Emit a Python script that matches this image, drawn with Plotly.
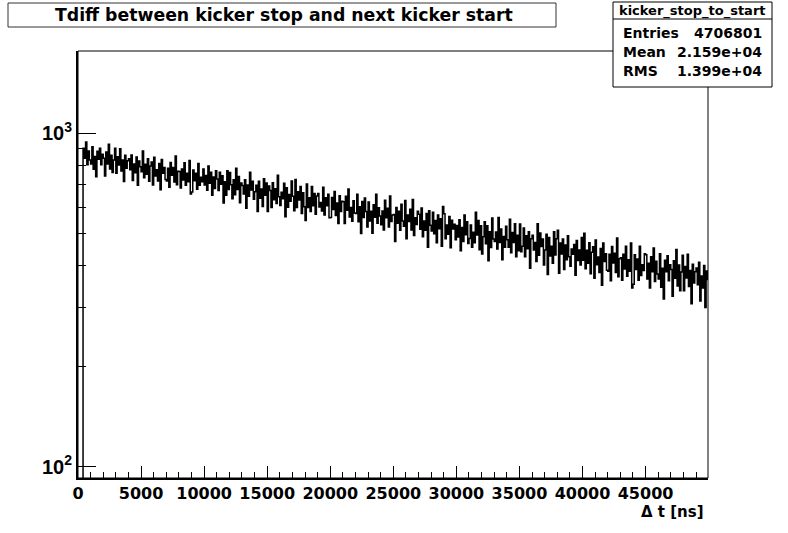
import plotly.graph_objects as go

# ---------------- data ----------------
TITLE = "Tdiff between kicker stop and next kicker start"
HIST_NAME = "kicker_stop_to_start"
STAT_LABELS = ["Entries", "Mean", "RMS"]
STAT_VALUES = ["4706801", "2.159e+04", "1.399e+04"]
X_TITLE = "\u0394 t [ns]"

BIN_WIDTH = 100  # ns
X_TICKS = [0, 5000, 10000, 15000, 20000, 25000, 30000, 35000, 40000, 45000]
Y_TICKS = [100, 1000]
Y_TICK_TEXT = ["10<sup>2</sup>", "10<sup>3</sup>"]
Y_MINOR = [200, 300, 400, 500, 600, 700, 800, 900]

counts_00000_10000 = [
    0, 0, 0, 0, 901, 841, 940, 804, 884, 831,
    808, 910, 779, 850, 740, 882, 835, 901, 803, 864,
    840, 743, 877, 808, 926, 780, 858, 762, 831, 900,
    758, 849, 802, 898, 770, 830, 716, 858, 785, 826,
    838, 776, 860, 721, 808, 761, 848, 698, 825, 793,
    766, 883, 734, 806, 752, 838, 717, 797, 819, 699,
    846, 744, 776, 718, 811, 676, 833, 758, 789, 726,
    718, 785, 688, 816, 748, 788, 713, 853, 700, 768,
    767, 684, 780, 723, 815, 697, 758, 715, 828, 657,
    666, 775, 719, 758, 679, 810, 697, 737, 714, 780,
]
counts_10000_20000 = [
    699, 746, 674, 797, 707, 763, 651, 738, 682, 771,
    728, 673, 763, 702, 745, 617, 715, 651, 771, 677,
    762, 700, 636, 724, 653, 785, 677, 741, 618, 708,
    696, 657, 725, 595, 699, 646, 763, 675, 717, 633,
    667, 698, 582, 717, 638, 680, 602, 730, 651, 709,
    582, 694, 673, 598, 710, 631, 681, 615, 748, 644,
    607, 665, 636, 707, 561, 686, 599, 654, 625, 718,
    646, 585, 726, 598, 667, 630, 691, 574, 662, 601,
    547, 704, 598, 640, 582, 691, 606, 659, 571, 648,
    659, 600, 619, 584, 688, 568, 640, 605, 656, 557,
]
counts_20000_30000 = [
    558, 641, 590, 668, 566, 617, 536, 649, 582, 625,
    622, 536, 646, 587, 680, 560, 598, 544, 627, 576,
    574, 655, 542, 601, 500, 623, 558, 639, 582, 523,
    621, 545, 583, 501, 610, 559, 655, 537, 597, 564,
    531, 584, 512, 629, 557, 595, 523, 648, 543, 568,
    570, 473, 598, 537, 583, 511, 612, 545, 526, 628,
    482, 568, 543, 591, 512, 632, 493, 557, 532, 583,
    571, 515, 596, 489, 545, 511, 574, 455, 585, 529,
    509, 579, 499, 547, 469, 568, 517, 554, 458, 602,
    573, 482, 530, 497, 562, 453, 548, 516, 533, 479,
]
counts_30000_40000 = [
    528, 488, 550, 444, 521, 473, 568, 496, 542, 467,
    483, 530, 455, 504, 469, 579, 495, 547, 447, 527,
    434, 489, 542, 466, 527, 414, 506, 454, 556, 481,
    473, 505, 449, 558, 470, 516, 417, 490, 455, 526,
    479, 455, 552, 438, 503, 470, 535, 426, 494, 444,
    534, 441, 458, 519, 426, 492, 450, 506, 393, 482,
    494, 446, 470, 412, 535, 430, 502, 457, 481, 402,
    446, 497, 377, 486, 428, 458, 407, 506, 431, 482,
    511, 380, 468, 434, 481, 390, 462, 417, 492, 426,
    399, 449, 433, 463, 375, 476, 415, 446, 402, 486,
]
counts_40000_50000 = [
    416, 501, 392, 445, 407, 469, 379, 439, 456, 367,
    478, 403, 425, 382, 451, 350, 468, 412, 435, 388,
    385, 433, 361, 457, 408, 436, 382, 485, 371, 420,
    423, 362, 433, 391, 458, 372, 417, 385, 468, 343,
    352, 432, 390, 419, 362, 458, 374, 403, 387, 435,
    432, 365, 407, 343, 426, 384, 452, 359, 413, 378,
    365, 435, 345, 393, 318, 416, 384, 429, 361, 403,
    390, 324, 414, 367, 448, 348, 402, 337, 383, 430,
    337, 398, 368, 433, 347, 387, 308, 404, 355, 384,
    394, 351, 410, 314, 373, 343, 401, 300, 386, 364,
]

# ---------------- build histogram ----------------
counts = (counts_00000_10000 + counts_10000_20000 + counts_20000_30000
          + counts_30000_40000 + counts_40000_50000)
edges = [i * BIN_WIDTH for i in range(len(counts) + 1)]
LOG_FLOOR = 1  # empty bins drawn below the frame (like ROOT on log scale)
y_step = [c if c > 0 else LOG_FLOOR for c in counts] + [counts[-1]]

# ---------------- layout geometry (pixels) ----------------
W, H = 788, 533
L, R, T, B = 78, 708, 51, 478


def px(x):
    return (x - L) / (R - L)


def py(y):
    return (B - y) / (B - T)


FONT = "DejaVu Sans, Verdana, sans-serif"
FONT_Y = "Liberation Sans, Arial, Helvetica, sans-serif"

fig = go.Figure()
fig.add_trace(go.Scatter(
    x=edges, y=y_step, mode="lines", line_shape="hv",
    line=dict(color="black", width=1.5), showlegend=False, hoverinfo="skip",
))

fig.update_layout(
    width=W, height=H,
    margin=dict(l=L, r=W - R, t=T, b=H - B, pad=0),
    paper_bgcolor="white", plot_bgcolor="white",
    showlegend=False,
    font=dict(family=FONT, color="black"),
)

fig.update_xaxes(
    range=[0, 49950], showgrid=False, zeroline=False,
    showline=True, linecolor="black", linewidth=2,
    ticks="inside", ticklen=12, tickwidth=1, tickcolor="black",
    tickvals=X_TICKS, ticktext=[str(v) for v in X_TICKS],
    tickfont=dict(family=FONT, size=16, weight="bold"),
    minor=dict(dtick=1000, tick0=0, ticks="inside", ticklen=6,
               tickwidth=1, tickcolor="black", showgrid=False),
)
fig.update_yaxes(
    type="log", range=[1.966, 3.246], showgrid=False, zeroline=False,
    showline=True, linecolor="black", linewidth=2,
    ticks="inside", ticklen=18, tickwidth=1, tickcolor="black",
    tickvals=Y_TICKS, ticktext=Y_TICK_TEXT,
    tickfont=dict(family=FONT_Y, size=20, weight="bold"),
    minor=dict(tickmode="array", tickvals=Y_MINOR, ticks="inside",
               ticklen=8, tickwidth=1, tickcolor="black", showgrid=False),
)

shapes = [
    # frame (top/right)
    dict(type="rect", xref="paper", yref="paper", x0=0, x1=1, y0=0, y1=1,
         line=dict(color="black", width=1), layer="above"),
    # title box
    dict(type="rect", xref="paper", yref="paper",
         x0=px(8), x1=px(556), y0=py(27), y1=py(3),
         line=dict(color="#333333", width=1), fillcolor="white", layer="above"),
    # stats box
    dict(type="rect", xref="paper", yref="paper",
         x0=px(613), x1=px(772), y0=py(87), y1=py(2),
         line=dict(color="black", width=1), fillcolor="white", layer="above"),
    dict(type="line", xref="paper", yref="paper",
         x0=px(613), x1=px(772), y0=py(19), y1=py(19),
         line=dict(color="black", width=1), layer="above"),
]
fig.update_layout(shapes=shapes)

ann = [
    dict(text=TITLE, x=px(284), y=py(15), xanchor="center", yanchor="middle",
         font=dict(family=FONT, size=17.3, weight="bold")),
    dict(text=HIST_NAME, x=px(692.5), y=py(10.5), xanchor="center", yanchor="middle",
         font=dict(family=FONT, size=13, weight="bold")),
    dict(text=X_TITLE, x=px(706), y=py(512), xanchor="right", yanchor="middle",
         font=dict(family=FONT, size=15, weight="bold")),
]
row_y = [33, 52, 71]
for lab, val, yy in zip(STAT_LABELS, STAT_VALUES, row_y):
    ann.append(dict(text=lab, x=px(621), y=py(yy), xanchor="left", yanchor="middle",
                    font=dict(family=FONT, size=14, weight="bold")))
    ann.append(dict(text=val, x=px(764), y=py(yy), xanchor="right", yanchor="middle",
                    font=dict(family=FONT, size=14, weight="bold")))
for a in ann:
    a.update(xref="paper", yref="paper", showarrow=False)
fig.update_layout(annotations=ann)

fig.write_html(
    "out.html",
    config={"displayModeBar": False},
    post_script="document.body.style.margin='0';document.body.style.overflow='hidden';",
)
